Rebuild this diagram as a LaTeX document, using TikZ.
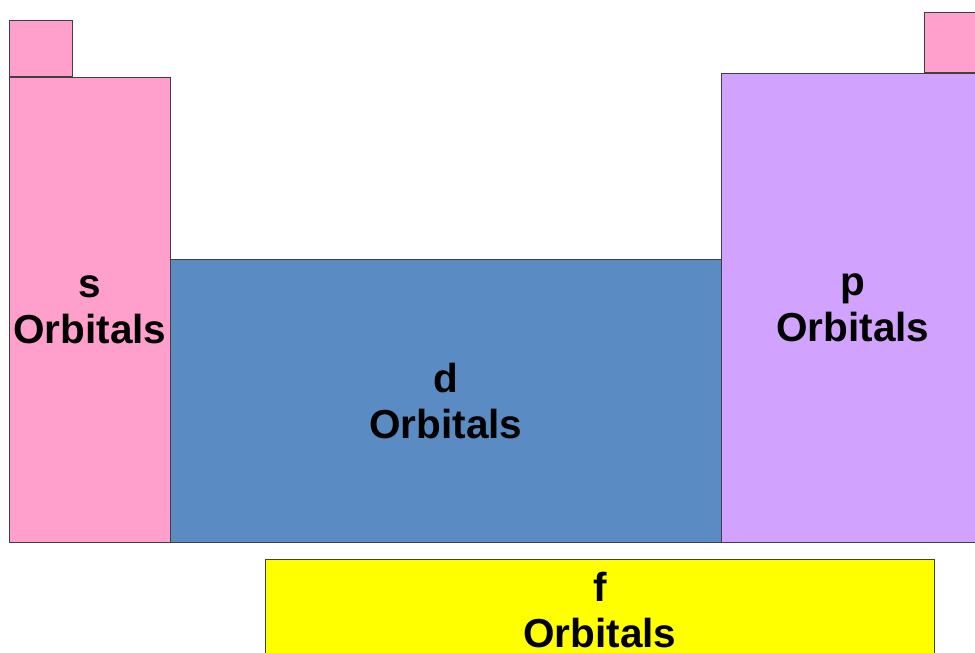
\documentclass[tikz,border=0pt]{standalone}
\usepackage{fontspec}
\setmainfont{Liberation Sans}
\usepackage{xcolor}
\usetikzlibrary{positioning}

\definecolor{spink}{HTML}{FF9FCC}
\definecolor{dblue}{HTML}{5B8BC3}
\definecolor{pviolet}{HTML}{D1A3FF}
\definecolor{fyellow}{HTML}{FFFF00}

\begin{document}
\begin{tikzpicture}[x=1pt, y=-1pt]

\tikzset{
  block/.style={rectangle, draw=black!75, line width=0.8pt, inner sep=0pt,
    align=center, font=\fontsize{40.5}{46}\selectfont\bfseries},
  tab/.style={rectangle, draw=black!75, line width=0.8pt, fill=spink,
    minimum width=63pt}
}

\useasboundingbox (0,0) rectangle (975,653);
\clip (0,0) rectangle (975,653);

\node[block, fill=spink, minimum width=161pt, minimum height=465pt,
  anchor=north west] (sblock) at (9,77) {s\\Orbitals};
\node[block, fill=dblue, minimum width=551pt, minimum height=283pt,
  anchor=south west] (dblock) at ([xshift=-0.8pt]sblock.south east) {d\\Orbitals};
\node[block, fill=pviolet, minimum width=263pt, minimum height=469pt,
  anchor=south west] (pblock) at ([xshift=-0.8pt]dblock.south east) {p\\Orbitals};
\node[block, fill=fyellow, minimum width=669pt, minimum height=102pt,
  anchor=north west] (fblock) at (265,559) {f\\Orbitals};

\node[tab, minimum height=56pt, anchor=south west] (stab) at (sblock.north west) {};
\node[tab, minimum width=60pt, minimum height=60pt, anchor=south east] (ptab) at (pblock.north east) {};

\end{tikzpicture}
\end{document}
